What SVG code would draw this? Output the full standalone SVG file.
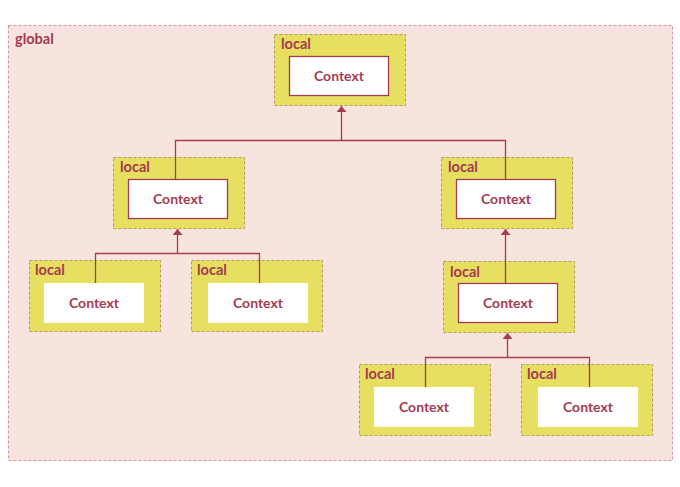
<svg xmlns="http://www.w3.org/2000/svg" width="680" height="487" viewBox="0 0 680 487">
<defs>
<style>
.global{fill:#f8e4df;stroke:#d9939c;stroke-width:1;stroke-dasharray:3 2}
.local{fill:#e6df5f;stroke:#b99a55;stroke-width:1;stroke-dasharray:3 2}
.ctx{fill:#ffffff;stroke:#a63a50;stroke-width:1.3}
.leaf{fill:#ffffff;stroke:none}
.lbl{font-family:Lato,"Open Sans",sans-serif;font-weight:bold;font-size:14.5px;fill:#a63a50}
.ctxt{font-family:Lato,"Open Sans",sans-serif;font-weight:bold;font-size:14px;fill:#a63a50;text-anchor:middle}
.conn{fill:none;stroke:#a63a50;stroke-width:1.3}
</style>
<marker id="arr" viewBox="0 0 10 10" refX="10" refY="5" markerWidth="6" markerHeight="10" markerUnits="userSpaceOnUse" orient="auto" preserveAspectRatio="none">
<path d="M0,0 L10,5 L0,10 z" fill="#a63a50"/>
</marker>
</defs>
<rect x="0" y="0" width="680" height="487" fill="#ffffff"/>
<g id="global">
<rect class="global" x="8.5" y="25.5" width="664" height="435"/>
<text class="lbl" x="15" y="44">global</text>
</g>
<g id="n-root">
<rect class="local" x="274.5" y="34.5" width="131" height="71"/>
<text class="lbl" x="281" y="49">local</text>
<rect class="ctx" x="289.5" y="56.5" width="99" height="39"/>
<text class="ctxt" x="339" y="81">Context</text>
</g>
<g id="n-l">
<rect class="local" x="113.5" y="157.5" width="131" height="71"/>
<text class="lbl" x="120" y="172">local</text>
<rect class="ctx" x="128.5" y="179.5" width="99" height="39"/>
<text class="ctxt" x="178" y="204">Context</text>
</g>
<g id="n-r">
<rect class="local" x="441.5" y="157.5" width="131" height="71"/>
<text class="lbl" x="448" y="172">local</text>
<rect class="ctx" x="456.5" y="179.5" width="99" height="39"/>
<text class="ctxt" x="506" y="204">Context</text>
</g>
<g id="n-ll">
<rect class="local" x="29.5" y="260.5" width="131" height="71"/>
<text class="lbl" x="35" y="275">local</text>
<rect class="leaf" x="44" y="283" width="100" height="40"/>
<text class="ctxt" x="94" y="308">Context</text>
</g>
<g id="n-lr">
<rect class="local" x="191.5" y="260.5" width="131" height="71"/>
<text class="lbl" x="197" y="275">local</text>
<rect class="leaf" x="208" y="283" width="100" height="40"/>
<text class="ctxt" x="258" y="308">Context</text>
</g>
<g id="n-rm">
<rect class="local" x="443.5" y="261.5" width="131" height="71"/>
<text class="lbl" x="450" y="277">local</text>
<rect class="ctx" x="458.5" y="283.5" width="99" height="39"/>
<text class="ctxt" x="508" y="308">Context</text>
</g>
<g id="n-rl">
<rect class="local" x="359.5" y="364.5" width="131" height="71"/>
<text class="lbl" x="365" y="379">local</text>
<rect class="leaf" x="374" y="387" width="100" height="40"/>
<text class="ctxt" x="424" y="412">Context</text>
</g>
<g id="n-rr">
<rect class="local" x="521.5" y="364.5" width="131" height="71"/>
<text class="lbl" x="527" y="379">local</text>
<rect class="leaf" x="538" y="387" width="100" height="40"/>
<text class="ctxt" x="588" y="412">Context</text>
</g>
<g id="connectors">
<path class="conn" d="M175.5,179 V140.5 H505.5 V179"/>
<path class="conn" d="M341.5,140.5 V106" marker-end="url(#arr)"/>
<path class="conn" d="M95.5,283 V253.5 H259.5 V283"/>
<path class="conn" d="M177.5,253.5 V229" marker-end="url(#arr)"/>
<path class="conn" d="M505.5,283 V229" marker-end="url(#arr)"/>
<path class="conn" d="M425.5,387 V357.5 H589.5 V387"/>
<path class="conn" d="M507.5,357.5 V333" marker-end="url(#arr)"/>
</g>
</svg>
